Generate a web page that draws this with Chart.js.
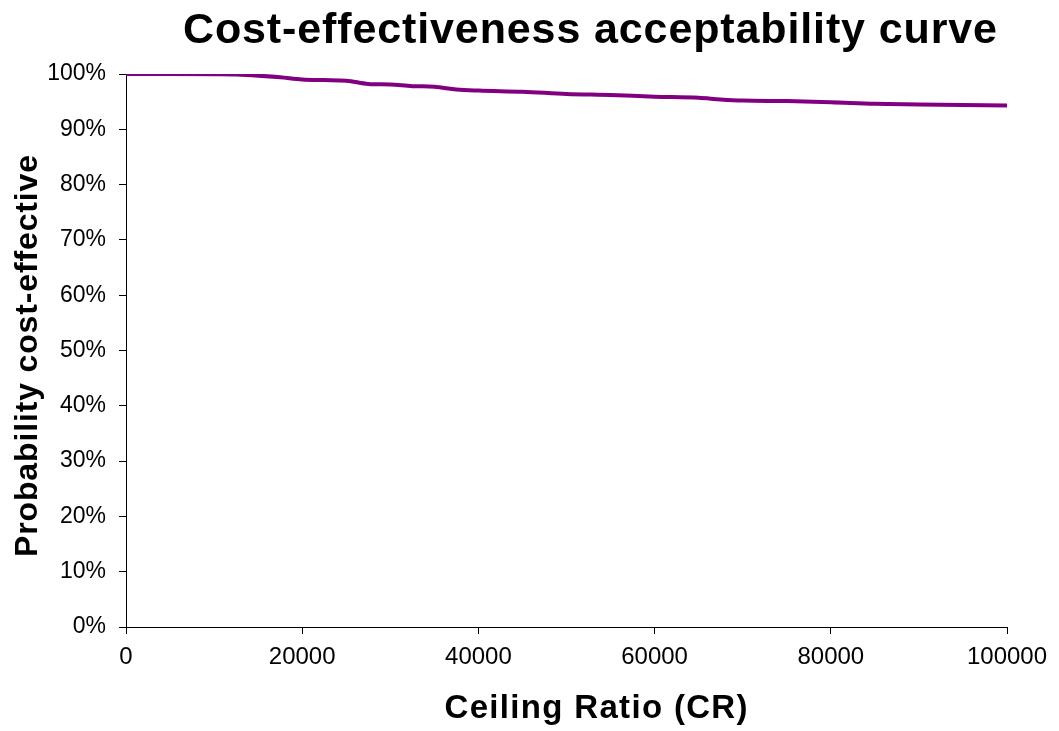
<!DOCTYPE html>
<html>
<head>
<meta charset="utf-8">
<script src="https://cdn.jsdelivr.net/npm/chart.js@4/dist/chart.umd.min.js"></script>
<style>
  html, body { margin: 0; padding: 0; background: #ffffff; }
  #wrap { width: 1059px; height: 731px; }
</style>
</head>
<body>
<div id="wrap"><canvas id="c" width="1059" height="731"></canvas></div>
<script>
const chartTitle = "Cost-effectiveness acceptability curve";
const xAxisTitle = "Ceiling Ratio (CR)";
const yAxisTitle = "Probability cost-effective";
const ceilingRatios = [0, 5000, 10000, 12500, 15000, 17500, 20000, 22500, 25000, 27500, 30000, 32500, 35000, 37500, 40000, 45000, 50000, 55000, 60000, 65000, 67500, 70000, 75000, 80000, 85000, 90000, 95000, 100000];
const probCostEffective = [100, 100, 99.95, 99.9, 99.7, 99.4, 99.0, 98.9, 98.8, 98.2, 98.1, 97.8, 97.7, 97.2, 97.0, 96.8, 96.4, 96.2, 95.9, 95.7, 95.4, 95.2, 95.1, 94.9, 94.6, 94.5, 94.4, 94.3];
const xTicks = [0, 20000, 40000, 60000, 80000, 100000];
const yTicks = [0, 10, 20, 30, 40, 50, 60, 70, 80, 90, 100];

const FONT = "'Liberation Sans', Arial, sans-serif";

// draw text centred at (0, 0) on the current transform, spread to a target width
function spreadText(ctx, text, targetWidth) {
  const chars = Array.from(text);
  const widths = chars.map(ch => ctx.measureText(ch).width);
  const natural = widths.reduce((a, b) => a + b, 0);
  const gap = chars.length > 1 ? (targetWidth - natural) / (chars.length - 1) : 0;
  let x = -targetWidth / 2;
  ctx.textAlign = 'left';
  chars.forEach((ch, i) => {
    ctx.fillText(ch, x, 0);
    x += widths[i] + gap;
  });
}

const textPlugin = {
  id: 'texts',
  afterDraw(chart) {
    const ctx = chart.ctx;
    ctx.save();
    ctx.fillStyle = '#000';
    ctx.textBaseline = 'alphabetic';

    ctx.save();
    ctx.font = "bold 43px " + FONT;
    ctx.translate(590, 43);
    spreadText(ctx, chartTitle, 814);
    ctx.restore();

    ctx.save();
    ctx.font = "bold 33px " + FONT;
    ctx.translate(596, 718);
    spreadText(ctx, xAxisTitle, 303);
    ctx.restore();

    ctx.save();
    ctx.font = "bold 32px " + FONT;
    ctx.translate(37, 356);
    ctx.rotate(-Math.PI / 2);
    spreadText(ctx, yAxisTitle, 402);
    ctx.restore();

    ctx.restore();
  }
};

new Chart(document.getElementById('c'), {
  type: 'line',
  data: {
    datasets: [{
      data: ceilingRatios.map((x, i) => ({ x: x, y: probCostEffective[i] })),
      borderColor: '#800080',
      borderWidth: 4,
      pointRadius: 0,
      fill: false,
      tension: 0.3,
      cubicInterpolationMode: 'monotone'
    }]
  },
  options: {
    responsive: false,
    animation: false,
    devicePixelRatio: 1,
    layout: { padding: { left: 0, right: 52, top: 74, bottom: 0 } },
    plugins: { legend: { display: false }, title: { display: false }, tooltip: { enabled: false } },
    scales: {
      x: {
        type: 'linear',
        min: 0, max: 100000,
        afterFit(scale) { scale.height = 104; },
        afterBuildTicks(scale) { scale.ticks = xTicks.map(v => ({ value: v })); },
        grid: { drawOnChartArea: false, drawTicks: true, tickLength: 7, color: '#000', tickColor: '#000' },
        border: { display: true, color: '#000', width: 1 },
        ticks: {
          color: '#000', padding: 9, maxRotation: 0, autoSkip: false,
          font: { family: FONT, size: 24 },
          callback: v => String(v)
        }
      },
      y: {
        type: 'linear',
        min: 0, max: 100,
        afterFit(scale) { scale.width = 126; },
        afterBuildTicks(scale) { scale.ticks = yTicks.map(v => ({ value: v })); },
        grid: { drawOnChartArea: false, drawTicks: true, tickLength: 7, color: '#000', tickColor: '#000' },
        border: { display: true, color: '#000', width: 1 },
        ticks: {
          color: '#000', padding: 13, autoSkip: false,
          font: { family: FONT, size: 23 },
          callback: v => v + '%'
        }
      }
    }
  },
  plugins: [textPlugin]
});
</script>
</body>
</html>
